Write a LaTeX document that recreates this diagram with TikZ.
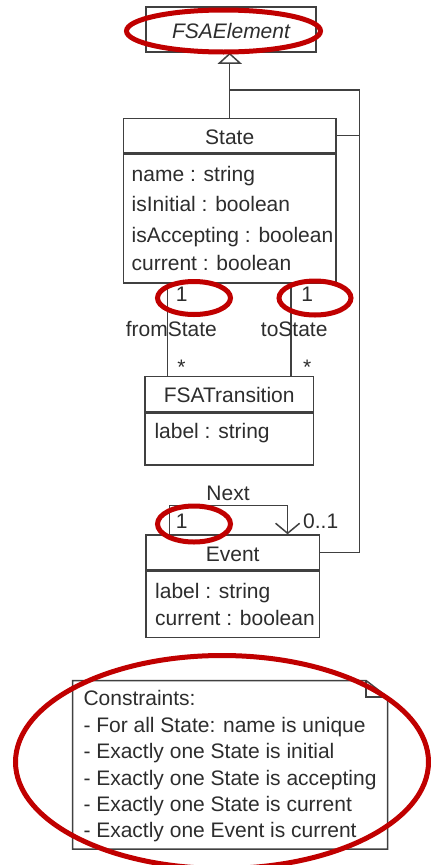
\documentclass[tikz,border=0pt]{standalone}
\usepackage{fontspec}
\setmainfont{Liberation Sans}
\usetikzlibrary{positioning,arrows.meta,shapes.geometric}
\definecolor{linegray}{RGB}{64,64,64}
\definecolor{textgray}{RGB}{45,45,45}
\definecolor{ringred}{RGB}{192,0,0}
\begin{document}
\begin{tikzpicture}[
		x=1pt, y=-1pt,
		every node/.style={font=\fontsize{21}{25}\selectfont, text=textgray},
		line/.style={draw=linegray, line width=1.5pt},
		classbox/.style={line, fill=white, inner sep=0pt},
		hdr/.style={classbox, text height=17pt, text depth=-2pt},
		attr/.style={anchor=base west, inner sep=0pt},
		mult/.style={anchor=base, inner sep=0pt},
		ring/.style={ellipse, draw=ringred, line width=5pt, inner sep=0pt}
	]
	\useasboundingbox (0,0) rectangle (431,865);
	\node[hdr, minimum width=170pt, minimum height=45pt] (fsa) at (231,29.5) {\itshape FSAElement};

	\node[hdr, minimum width=212.7pt, minimum height=34.4pt] (stateHead) at (229.7,135.5) {State};
	\node[classbox, minimum width=212.7pt, minimum height=129pt, below=0pt of stateHead] (stateBody) {};
	\node[attr] (sName) at (131.5,181.5) {name : string};
	\node[attr] (sInit) at (131.5,211.5) {isInitial : boolean};
	\node[attr] (sAcc) at (131.5,242) {isAccepting : boolean};
	\node[attr] (sCur) at (131.5,270.5) {current : boolean};

	\node[hdr, minimum width=168.3pt, minimum height=35pt] (transHead) at (229.2,394.2) {FSATransition};
	\node[classbox, minimum width=168.3pt, minimum height=51.6pt, below=0pt of transHead] (transBody) {};
	\node[attr] (tLabel) at (154.3,438.5) {label : string};

	\node[hdr, minimum width=173.3pt, minimum height=35pt] (eventHead) at (232.7,552.5) {Event};
	\node[classbox, minimum width=173.3pt, minimum height=66pt, below=0pt of eventHead] (eventBody) {};
	\node[attr] (eLabel) at (155,598.3) {label : string};
	\node[attr] (eCur) at (155,625) {current : boolean};

	\draw[line, -{Triangle[open, length=11pt, width=24pt]}] (stateHead.north) -- (stateHead.north |- fsa.south);
	\coordinate (bend) at (359.5,90);
	\draw[line] (eventHead.east) -| (bend) -- (bend -| stateHead.north);
	\draw[line] (stateHead.east) -- (stateHead.east -| bend);

	\draw[line] ([xshift=45pt]stateBody.south west) coordinate (fromTop) -- (fromTop |- transHead.north);
	\draw[line] ([xshift=168.4pt]stateBody.south west) coordinate (toTop) -- (toTop |- transHead.north);
	\node[mult] (oneFrom) at (181.7,301.7) {1};
	\node[mult] (fromLbl) at (171.3,336.7) {fromState};
	\node[mult] (manyFrom) at (181.5,374) {*};
	\node[mult] (oneTo) at (307.3,301.7) {1};
	\node[mult] (toLbl) at (294.2,336.7) {toState};
	\node[mult] (manyTo) at (307.3,374) {*};

	\draw[line, -{Straight Barb[length=10pt, width=24pt]}] ([xshift=24pt]eventHead.north west) -- ++(0,-29) -| ([xshift=142.3pt]eventHead.north west);
	\node[mult] (nextLbl) at (228,500.7) {Next};
	\node[mult] (oneNext) at (181.7,528.3) {1};
	\node[attr] (zeroOne) at (303,528.3) {0..1};

	\node[minimum width=314.6pt, minimum height=168.3pt, inner sep=0pt] (note) at (230,764.85) {};
	\draw[line] (note.north west) -- ([xshift=-21.5pt]note.north east) -- ([yshift=-16.5pt]note.north east) -- (note.south east) -- (note.south west) -- cycle;
	\draw[line] ([xshift=-21.5pt]note.north east) |- ([yshift=-16.5pt]note.north east);
	\node[attr] (c0) at (83.3,705.7) {Constraints:};
	\node[attr] (c1) at (83.3,732.5) {- For all State: name is unique};
	\node[attr] (c2) at (83.3,758.8) {- Exactly one State is initial};
	\node[attr] (c3) at (83.3,785.2) {- Exactly one State is accepting};
	\node[attr] (c4) at (83.3,811.5) {- Exactly one State is current};
	\node[attr] (c5) at (83.3,837.8) {- Exactly one Event is current};

	\node[ring, minimum width=194pt, minimum height=42pt] (ringTop) at (223.5,31) {};
	\node[ring, minimum width=73pt, minimum height=33pt] (ringFrom) at (194,298) {};
	\node[ring, minimum width=72pt, minimum height=34pt] (ringTo) at (315,298) {};
	\node[ring, minimum width=73pt, minimum height=36pt] (ringNext) at (194,524) {};
	\node[ring, minimum width=413pt, minimum height=213pt] (ringNote) at (222,762) {};
\end{tikzpicture}
\end{document}
